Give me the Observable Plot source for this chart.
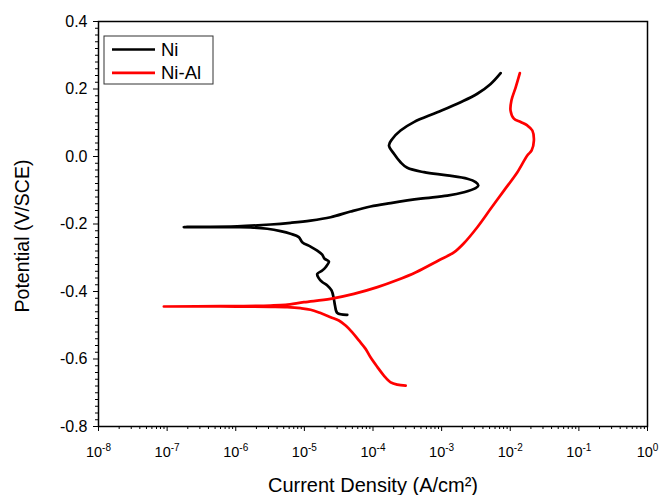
<!DOCTYPE html>
<html><head><meta charset="utf-8">
<script src="https://cdn.jsdelivr.net/npm/d3@7"></script>
<script src="https://cdn.jsdelivr.net/npm/@observablehq/plot@0.6"></script>
<style>body{margin:0;background:#fff} svg{display:block} svg, svg text{font-family:"Liberation Sans", Arial, Helvetica, sans-serif !important}</style>
</head><body><div id="chart"></div>
<script>
const seriesNames = ["Ni", "Ni-Al"];
const seriesColors = ["#000000", "#ff0000"];

const niCurrent = [4.22e-5,3.02e-5,2.79e-5,2.69e-5,2.49e-5,2.16e-5,1.82e-5,1.60e-5,1.54e-5,1.82e-5,2.04e-5,2.28e-5,1.97e-5,1.82e-5,1.54e-5,1.23e-5,9.3e-6,8.3e-6,6.3e-6,4.5e-6,2.88e-6,1.64e-6,8.4e-7,1.75e-7,1.05e-6,3.21e-6,6.3e-6,1.23e-5,2.41e-5,4.71e-5,9.2e-5,1.81e-4,4.94e-4,1.21e-3,2.11e-3,3.13e-3,3.43e-3,3.13e-3,2.37e-3,1.21e-3,5.52e-4,3.16e-4,2.52e-4,2.02e-4,1.71e-4,1.91e-4,2.52e-4,3.94e-4,8.65e-4,1.89e-3,3.31e-3,5.18e-3,7.24e-3];
const niPotential = [-0.469,-0.464,-0.441,-0.422,-0.397,-0.382,-0.372,-0.359,-0.348,-0.338,-0.328,-0.311,-0.303,-0.291,-0.279,-0.267,-0.254,-0.239,-0.229,-0.221,-0.214,-0.210,-0.2095,-0.209,-0.207,-0.2015,-0.1965,-0.190,-0.180,-0.163,-0.148,-0.138,-0.125,-0.116,-0.106,-0.094,-0.086,-0.076,-0.066,-0.056,-0.0465,-0.0335,-0.017,0.008,0.033,0.052,0.077,0.102,0.131,0.161,0.186,0.215,0.247];

const alCurrent = [2.99e-4,2.26e-4,1.81e-4,1.44e-4,1.16e-4,9.2e-5,7.8e-5,6.22e-5,4.99e-5,3.99e-5,3.18e-5,2.41e-5,1.72e-5,1.23e-5,8.8e-6,5.64e-6,3.21e-6,6.0e-7,8.96e-8,6.0e-7,3.21e-6,5.32e-6,9.84e-6,2.41e-5,5.27e-5,1.16e-4,2.26e-4,4.3e-4,9.0e-4,1.51e-3,2.11e-3,3.31e-3,5.18e-3,8.09e-3,1.27e-2,1.77e-2,2.05e-2,2.21e-2,2.10e-2,1.77e-2,1.42e-2,1.13e-2,1.01e-2,1.04e-2,1.20e-2,1.38e-2];
const alPotential = [-0.679,-0.676,-0.669,-0.649,-0.624,-0.595,-0.570,-0.545,-0.521,-0.501,-0.486,-0.476,-0.464,-0.454,-0.4495,-0.4465,-0.4455,-0.4445,-0.4445,-0.4435,-0.4415,-0.4394,-0.4317,-0.4217,-0.407,-0.387,-0.366,-0.342,-0.308,-0.284,-0.257,-0.2095,-0.155,-0.101,-0.0465,0.003,0.018,0.047,0.077,0.092,0.102,0.112,0.136,0.166,0.205,0.247];

const xMajorTicks = [1e-8,1e-7,1e-6,1e-5,1e-4,1e-3,1e-2,1e-1,1];
const xTickExponents = ["-8","-7","-6","-5","-4","-3","-2","-1","0"];
const yMajorTicks = [-0.8,-0.6,-0.4,-0.2,0,0.2,0.4];
const xMinorTicks = xMajorTicks.slice(0, -1).flatMap(d => [2,3,4,5,6,7,8,9].map(k => k * d));
const yMinorTicks = d3.range(-40, 21).filter(i => i % 10 !== 0).map(i => i * 0.02);

const rows = [
  ...niCurrent.map((c, i) => ({series: seriesNames[0], current: c, potential: niPotential[i]})),
  ...alCurrent.map((c, i) => ({series: seriesNames[1], current: c, potential: alPotential[i]}))
];

const FONT = '"Liberation Sans", Arial, Helvetica, sans-serif';

const plot = Plot.plot({
  width: 659, height: 495,
  marginLeft: 98, marginRight: 12, marginTop: 21, marginBottom: 69,
  style: {fontFamily: FONT, background: "#fff", color: "#000"},
  x: {type: "log", domain: [1e-8, 1]},
  y: {domain: [-0.8, 0.4]},
  color: {domain: seriesNames, range: seriesColors},
  marks: [
    Plot.axisY(yMinorTicks, {tickSize: 3, tickFormat: () => "", label: null}),
    Plot.axisY(yMajorTicks, {tickSize: 5, tickPadding: 6, tickFormat: d => d.toFixed(1), fontSize: 16, label: null}),
    Plot.axisX(xMinorTicks, {tickSize: 3, tickFormat: () => "", label: null}),
    Plot.axisX(xMajorTicks, {tickSize: 5, tickPadding: 15, tickFormat: d => xTickExponents[xMajorTicks.indexOf(d)], fontSize: 14.5, label: null}),
    Plot.line(rows, {x: "current", y: "potential", z: "series", stroke: "series", strokeWidth: 2.7, curve: "catmull-rom"}),
    Plot.frame({stroke: "#000", strokeWidth: 1.5}),
    Plot.text(["Potential (V/SCE)"], {text: d => d, frameAnchor: "left", textAnchor: "middle", lineAnchor: "middle", dx: -76, dy: 12, rotate: -90, fontSize: 19.5}),
    Plot.text(["Current Density (A/cm²)"], {text: d => d, frameAnchor: "bottom", textAnchor: "middle", lineAnchor: "middle", dy: 59, fontSize: 20})
  ]
});

const svg = d3.select(plot);
svg.attr("font-family", FONT).style("font-family", FONT);
svg.selectAll('g[aria-label="x-axis tick label"] text').each(function() {
  const t = d3.select(this);
  const e = t.text();
  if (!e) return;
  t.text("10");
  t.append("tspan").attr("dy", "-0.55em").attr("font-size", "10px").text(e);
});

const lg = svg.append("g").attr("font-size", 18.5).attr("text-anchor", "start");
lg.append("rect").attr("x", 104).attr("y", 36).attr("width", 109).attr("height", 48)
  .attr("fill", "#fff").attr("stroke", "#333").attr("stroke-width", 1);
seriesNames.forEach((n, i) => {
  const y = 49.5 + i * 23.3;
  lg.append("line").attr("x1", 112).attr("x2", 155).attr("y1", y).attr("y2", y)
    .attr("stroke", seriesColors[i]).attr("stroke-width", 2.7);
  lg.append("text").attr("x", 161).attr("y", y).attr("dy", "0.35em").attr("fill", "#000")
    .attr("text-anchor", "start").text(n);
});

document.getElementById("chart").appendChild(plot);
</script>
</body></html>
